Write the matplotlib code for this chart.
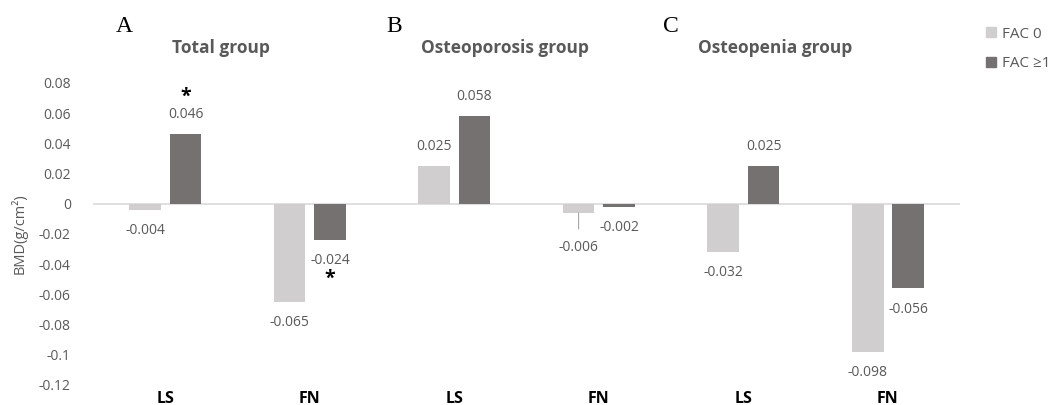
import matplotlib
matplotlib.use("Agg")
import matplotlib.pyplot as plt
import numpy as np
from matplotlib.patches import Patch

plt.rcParams['font.family'] = ['Open Sans', 'DejaVu Sans']

categories = ['LS', 'FN', 'LS', 'FN', 'LS', 'FN']
groups = ['Total group', 'Osteoporosis group', 'Osteopenia group']
panel_letters = ['A', 'B', 'C']
fac0 = [-0.004, -0.065, 0.025, -0.006, -0.032, -0.098]
fac1 = [0.046, -0.024, 0.058, -0.002, 0.025, -0.056]
fac1_sig = [True, True, False, False, False, False]
series_names = ['FAC 0', 'FAC \u22651']
yticks = [0.08, 0.06, 0.04, 0.02, 0, -0.02, -0.04, -0.06, -0.08, -0.1, -0.12]
ytick_labels = ['0.08', '0.06', '0.04', '0.02', '0', '-0.02', '-0.04', '-0.06', '-0.08', '-0.1', '-0.12']

c0 = '#D0CECE'
c1 = '#767171'
txt = '#595959'

fig = plt.figure(figsize=(10.63, 4.05), dpi=100)
ax = fig.add_axes([0.0875, 0.0494, 0.8157, 0.7457])

x = np.arange(len(categories))
w = 0.22
off = 0.14
ax.bar(x - off, fac0, w, color=c0, zorder=2)
ax.bar(x + off, fac1, w, color=c1, zorder=2)
ax.axhline(0, color='#D9D9D9', lw=1.2, zorder=1)

ax.set_xlim(-0.5, 5.5)
ax.set_ylim(-0.12, 0.08)
ax.set_yticks(yticks)
ax.set_yticklabels(ytick_labels, color=txt, fontsize=10)
ax.set_xticks(x)
ax.set_xticklabels(categories, fontsize=11.5, fontweight='bold', color='black')
ax.tick_params(axis='both', length=0)
ax.tick_params(axis='y', pad=16)
ax.tick_params(axis='x', pad=4)
for s in ax.spines.values():
    s.set_visible(False)
ax.set_ylabel('BMD(g/cm\u00b2)', color=txt, fontsize=10.5, labelpad=8)

def label(xpos, v, extra=0):
    d = 14 if v >= 0 else -15
    ax.annotate(f'{v:.3f}', (xpos, v), xytext=(0, d - extra), textcoords='offset points',
                ha='center', va='center', fontsize=10, color=txt, annotation_clip=False)

for i in range(len(categories)):
    if i == 3:
        ax.annotate(f'{fac0[i]:.3f}', (x[i] - off, fac0[i]), xytext=(0, -25),
                    textcoords='offset points', ha='center', va='center', fontsize=10, color=txt,
                    arrowprops=dict(arrowstyle='-', color='#A6A6A6', lw=0.8, shrinkA=6, shrinkB=0))
    else:
        label(x[i] - off, fac0[i])
    label(x[i] + off, fac1[i])
    if fac1_sig[i]:
        d = 27 if fac1[i] >= 0 else -28
        ax.annotate('*', (x[i] + off, fac1[i]), xytext=(0, d), textcoords='offset points',
                    ha='center', va='center', fontsize=14, fontweight='bold', color='black',
                    annotation_clip=False)

title_x = [0.208, 0.475, 0.729]
letter_x = [0.117, 0.371, 0.631]
for g, tx, L, lx in zip(groups, title_x, panel_letters, letter_x):
    fig.text(tx, 0.882, g, ha='center', va='center', fontsize=12.5, fontweight='bold', color=txt)
    fig.text(lx, 0.935, L, ha='center', va='center', fontsize=17, family='Liberation Serif', color='black')

handles = [Patch(color=c0), Patch(color=c1)]
fig.legend(handles, series_names, loc='upper left', bbox_to_anchor=(0.915, 0.968), frameon=False,
           handlelength=0.6, handleheight=0.6, labelspacing=0.95, handletextpad=0.4,
           fontsize=11, labelcolor=txt)

fig.savefig('out.png', dpi=100)
